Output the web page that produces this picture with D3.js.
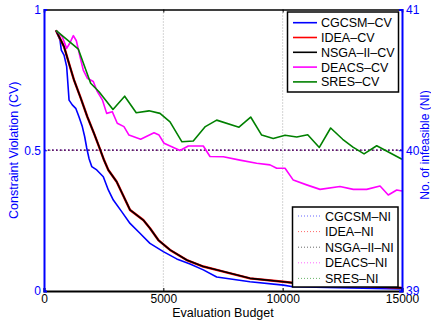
<!DOCTYPE html>
<html lang="en">
<head>
<meta charset="utf-8">
<title>CV and NI vs evaluation budget</title>
<script src="https://d3js.org/d3.v7.min.js"></script>
<style>
  body { margin: 0; background: #fff; }
  svg text { font-family: "Liberation Sans", Arial, sans-serif; }
</style>
</head>
<body>
<div id="chart"></div>
<script>
// [evaluation budget, constraint violation]
var cgcsmCV = [[500,0.926],[670,0.892],[725,0.856],[840,0.838],[950,0.797],[1005,0.732],[1050,0.678],
  [1185,0.661],[1330,0.649],[1465,0.619],[1605,0.584],[1705,0.548],[1790,0.508],[1885,0.471],[2000,0.442],
  [2210,0.430],[2485,0.406],[2695,0.359],[2905,0.323],[3255,0.282],[3605,0.240],[4020,0.205],[4440,0.169],
  [5000,0.140],[5560,0.114],[6120,0.096],[6675,0.075],[7235,0.050],[8630,0.033],[10030,0.021],[10430,0.015],
  [12820,0.011],[15000,0.007]];
var nsgaCV = [[500,0.926],[840,0.868],[1045,0.809],[1255,0.750],[1540,0.685],[1815,0.619],[2095,0.560],
  [2305,0.513],[2515,0.465],[2695,0.430],[3045,0.388],[3605,0.288],[4160,0.252],[4440,0.223],[4790,0.181],
  [5280,0.146],[5980,0.110],[6675,0.087],[7515,0.069],[8630,0.045],[10030,0.033],[10445,0.029],[12820,0.020],
  [15000,0.011]];
var ideaCV = [[500,0.926],[840,0.868],[1045,0.809],[1255,0.750],[1540,0.685],[1815,0.619],[2095,0.560],
  [2305,0.513],[2515,0.465],[2695,0.430],[3045,0.388],[3605,0.288],[4160,0.252],[4440,0.223],[4790,0.181],
  [5280,0.146],[5980,0.110],[6675,0.087],[7515,0.069],[8630,0.045],[10030,0.033],[10445,0.029],[12820,0.020],
  [15000,0.011]];
var deacsCV = [[500,0.926],[765,0.903],[950,0.862],[1090,0.882],[1230,0.907],[1355,0.889],[1510,0.832],
  [1645,0.785],[1815,0.756],[2065,0.744],[2235,0.708],[2445,0.679],[2625,0.631],[2860,0.637],[3070,0.596],
  [3350,0.584],[3560,0.554],[4050,0.539],[4610,0.562],[4820,0.554],[5030,0.525],[5700,0.499],[6045,0.515],
  [6675,0.515],[6955,0.478],[7515,0.477],[8210,0.465],[8910,0.454],[9470,0.448],[9750,0.436],[10100,0.436],
  [10445,0.394],[11005,0.377],[11565,0.361],[12400,0.371],[12960,0.361],[13520,0.361],[14080,0.373],
  [14425,0.341],[14780,0.359],[15000,0.355]];
var sresCV = [[500,0.926],[1440,0.859],[1955,0.738],[2305,0.708],[2890,0.645],[3380,0.692],[3865,0.633],
  [4400,0.640],[4860,0.631],[5280,0.601],[5780,0.530],[6255,0.533],[6760,0.584],[7235,0.607],[8170,0.582],
  [8660,0.618],[9120,0.554],[9605,0.542],[10100,0.553],[10590,0.547],[11050,0.555],[11535,0.510],
  [12010,0.579],[12515,0.539],[12945,0.511],[13410,0.487],[13940,0.516],[15000,0.468]];

// number of infeasible solutions (right axis)
var niBudget = [0, 5000, 10000, 15000];
var cgcsmNI = [40, 40, 40, 40];
var ideaNI = [40, 40, 40, 40];
var nsgaNI = [40, 40, 40, 40];
var deacsNI = [40, 40, 40, 40];
var sresNI = [40, 40, 40, 40];

var xTicks = [0, 5000, 10000, 15000];
var yTicks = [0, 0.5, 1];
var y2Ticks = [39, 40, 41];

var width = 431, height = 321;
var pLeft = 44, pRight = 402, pTop = 9.5, pBottom = 291;

var svg = d3.select("#chart").append("svg")
    .attr("width", width)
    .attr("height", height);

var x = d3.scaleLinear().domain([0, 15000]).range([pLeft, pRight]);
var y = d3.scaleLinear().domain([0, 1]).range([pBottom, pTop]);
var y2 = d3.scaleLinear().domain([39, 41]).range([pBottom, pTop]);

// grid
svg.append("g").selectAll("line")
    .data([5000, 10000])
  .enter().append("line")
    .attr("x1", d => x(d)).attr("x2", d => x(d))
    .attr("y1", pTop).attr("y2", pBottom)
    .attr("stroke", "#aaa").attr("stroke-width", 1)
    .attr("stroke-dasharray", "1,2");
svg.append("line")
    .attr("x1", pLeft).attr("x2", pRight)
    .attr("y1", y(0.5)).attr("y2", y(0.5))
    .attr("stroke", "#aaa").attr("stroke-dasharray", "1,2");

// NI lines, dotted, averaged on top of each other
var niSeries = [
  {name: "CGCSM\u2013NI", color: "#0000ff", values: cgcsmNI},
  {name: "IDEA\u2013NI", color: "#ff0000", values: ideaNI},
  {name: "NSGA\u2013II\u2013NI", color: "#000000", values: nsgaNI},
  {name: "DEACS\u2013NI", color: "#ff00ff", values: deacsNI},
  {name: "SRES\u2013NI", color: "#008000", values: sresNI}
];
var niLine = d3.line()
    .x((d, i) => x(niBudget[i]))
    .y(d => y2(d));
svg.append("g").selectAll("path")
    .data(niSeries)
  .enter().append("path")
    .attr("d", d => niLine(d.values))
    .attr("fill", "none")
    .attr("stroke", d => d.color)
    .attr("stroke-opacity", (d, i) => 1 / (i + 1))
    .attr("stroke-width", 1.5)
    .attr("stroke-dasharray", "1.5,2.5");

// CV lines
var cvSeries = [
  {name: "CGCSM\u2013CV", color: "#0000ff", values: cgcsmCV},
  {name: "IDEA\u2013CV", color: "#ff0000", values: ideaCV},
  {name: "NSGA\u2013II\u2013CV", color: "#000000", values: nsgaCV},
  {name: "DEACS\u2013CV", color: "#ff00ff", values: deacsCV},
  {name: "SRES\u2013CV", color: "#008000", values: sresCV}
];
var cvLine = d3.line()
    .x(d => x(d[0]))
    .y(d => y(d[1]));
svg.append("g").selectAll("path")
    .data(cvSeries)
  .enter().append("path")
    .attr("d", d => cvLine(d.values))
    .attr("fill", "none")
    .attr("stroke", d => d.color)
    .attr("stroke-width", d => d.name.indexOf("IDEA") == 0 ? 2.4 : 1.6)
    .attr("stroke-linejoin", "round");

// axes (ticks inside, like matlab)
var gx = svg.append("g")
    .attr("transform", "translate(0," + pBottom + ")")
    .call(d3.axisBottom(x).tickValues(xTicks).tickFormat(d3.format("d")).tickSize(-3).tickPadding(3));
gx.select(".domain").attr("stroke", "#000").attr("stroke-width", 2.2);
gx.selectAll("text").attr("font-size", 12).attr("fill", "#000");

var gt = svg.append("g")
    .attr("transform", "translate(0," + pTop + ")")
    .call(d3.axisTop(x).tickValues(xTicks).tickFormat("").tickSize(-3));
gt.select(".domain").attr("stroke", "#000").attr("stroke-width", 1.6);

var gy = svg.append("g")
    .attr("transform", "translate(" + pLeft + ",0)")
    .call(d3.axisLeft(y).tickValues(yTicks).tickFormat(d => d).tickSize(-3).tickPadding(3));
gy.select(".domain").attr("stroke", "#0000ff").attr("stroke-width", 2);
gy.selectAll(".tick line").attr("stroke", "#0000ff");
gy.selectAll("text").attr("font-size", 12).attr("fill", "#0000ff");

var gy2 = svg.append("g")
    .attr("transform", "translate(" + pRight + ",0)")
    .call(d3.axisRight(y2).tickValues(y2Ticks).tickFormat(d3.format("d")).tickSize(-3).tickPadding(4));
gy2.select(".domain").attr("stroke", "#0000ff").attr("stroke-width", 2);
gy2.selectAll(".tick line").attr("stroke", "#0000ff");
gy2.selectAll("text").attr("font-size", 12).attr("fill", "#0000ff");

// axis labels
svg.append("text")
    .attr("x", (pLeft + pRight) / 2).attr("y", 317)
    .attr("text-anchor", "middle")
    .attr("font-size", 12.5)
    .text("Evaluation Budget");
svg.append("text")
    .attr("transform", "translate(18," + ((pTop + pBottom) / 2) + ") rotate(-90)")
    .attr("text-anchor", "middle")
    .attr("font-size", 12.5)
    .attr("fill", "#0000ff")
    .text("Constraint Violation (CV)");
svg.append("text")
    .attr("transform", "translate(429,145) rotate(-90)")
    .attr("text-anchor", "middle")
    .attr("font-size", 12)
    .attr("fill", "#0000ff")
    .text("No. of infeasible (NI)");

// legends
function legend(items, bx, by, bw, bh, lx, tx, y0, dy, dotted) {
  var g = svg.append("g");
  g.append("rect")
      .attr("x", bx).attr("y", by).attr("width", bw).attr("height", bh)
      .attr("fill", "#fff").attr("stroke", "#000").attr("stroke-width", 1.5);
  var row = g.selectAll("g.item")
      .data(items)
    .enter().append("g")
      .attr("transform", (d, i) => "translate(0," + (y0 + i * dy) + ")");
  row.append("line")
      .attr("x1", lx).attr("x2", lx + 24)
      .attr("stroke", d => d.color)
      .attr("stroke-width", dotted ? 1 : 1.6)
      .attr("stroke-opacity", dotted ? 0.6 : 1)
      .attr("stroke-dasharray", dotted ? "1,2" : null);
  row.append("text")
      .attr("x", tx).attr("dy", "0.36em")
      .attr("font-size", 12.5)
      .text(d => d.name);
}
legend(cvSeries, 287.5, 12, 111, 80, 293, 321, 22.7, 14.8, false);
legend(niSeries, 292.5, 207, 105.5, 80, 298, 325, 216, 15.6, true);
</script>
</body>
</html>
